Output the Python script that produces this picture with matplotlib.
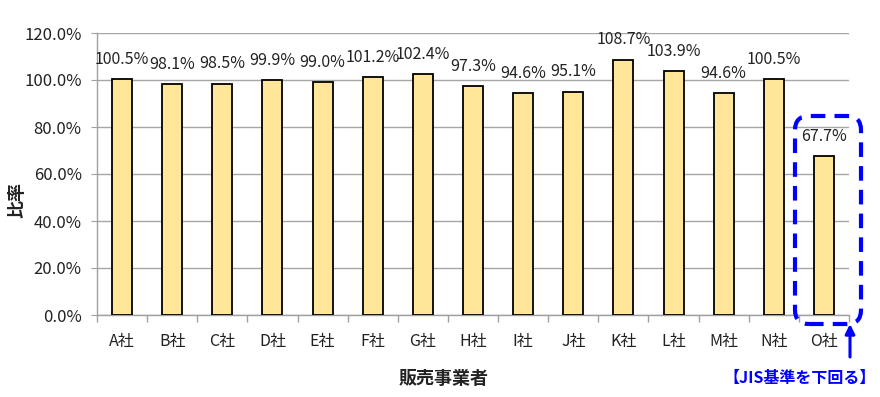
import matplotlib
matplotlib.use("Agg")
import matplotlib.pyplot as plt
from matplotlib.patches import FancyBboxPatch
from matplotlib.transforms import IdentityTransform
from matplotlib.ticker import FuncFormatter, MultipleLocator, FixedLocator

plt.rcParams['font.family'] = ['Noto Sans CJK JP', 'DejaVu Sans']

categories = ['A社', 'B社', 'C社', 'D社', 'E社', 'F社', 'G社', 'H社', 'I社', 'J社',
              'K社', 'L社', 'M社', 'N社', 'O社']
values = [100.5, 98.1, 98.5, 99.9, 99.0, 101.2, 102.4, 97.3, 94.6, 95.1,
          108.7, 103.9, 94.6, 100.5, 67.7]
value_labels = ['100.5%', '98.1%', '98.5%', '99.9%', '99.0%', '101.2%', '102.4%', '97.3%',
                '94.6%', '95.1%', '108.7%', '103.9%', '94.6%', '100.5%', '67.7%']

W, H = 880, 397
fig = plt.figure(figsize=(W / 100, H / 100), dpi=100)
ax = fig.add_axes([97 / W, 1 - 315 / H, (849 - 97) / W, (315 - 33) / H])

x = list(range(len(categories)))
ax.bar(x, values, width=0.4, color='#FFE699', edgecolor='black', linewidth=1.3, zorder=3)

for xi, v, lab in zip(x, values, value_labels):
    ax.annotate(lab, (xi, v), xytext=(0, 8), textcoords='offset points',
                ha='center', va='bottom', fontsize=11.5, color='#222222', zorder=4)

ax.set_xlim(-0.5, len(categories) - 0.5)
ax.set_ylim(0, 120)
ax.yaxis.set_major_locator(MultipleLocator(20))
ax.yaxis.set_major_formatter(FuncFormatter(lambda v, p: f'{v:.1f}%'))
ax.set_xticks(x)
ax.set_xticklabels(categories)
ax.xaxis.set_minor_locator(FixedLocator([i - 0.5 for i in range(len(categories) + 1)]))
ax.tick_params(axis='x', which='major', length=0, pad=13, labelsize=11.5, colors='#222222')
ax.tick_params(axis='x', which='minor', length=5, color='#A0A0A0', width=1)
ax.tick_params(axis='y', length=4, color='#A0A0A0', labelcolor='#222222', labelsize=12, pad=7)

ax.grid(axis='y', color='#A6A6A6', linewidth=1, zorder=0)
ax.set_axisbelow(True)
for s in ['top', 'right']:
    ax.spines[s].set_visible(False)
for s in ['left', 'bottom']:
    ax.spines[s].set_color('#A0A0A0')
    ax.spines[s].set_linewidth(1)

fig.text(17 / W, 1 - 200 / H, '比率', rotation=90, ha='center', va='center',
         fontsize=13, fontweight='bold', color='#222222')
fig.text(444 / W, 1 - 378 / H, '販売事業者', ha='center', va='center',
         fontsize=13, fontweight='bold', color='#222222')

# dashed rounded box (pixel coords, y flipped)
bx0, by0, bx1, by1 = 795, 116, 861, 324
box = FancyBboxPatch((bx0, H - by1), bx1 - bx0, by1 - by0,
                     boxstyle='round,pad=0,rounding_size=14',
                     transform=IdentityTransform(), fill=False,
                     edgecolor='#0000FF', linewidth=3, linestyle=(0, (3.5, 2.2)),
                     clip_on=False, zorder=6)
fig.add_artist(box)

ax.annotate('', xy=(850, H - 324), xytext=(850, H - 357),
            xycoords=IdentityTransform(), textcoords=IdentityTransform(),
            arrowprops=dict(arrowstyle='-|>', color='#0000FF', lw=2.2,
                            mutation_scale=14, shrinkA=0, shrinkB=0),
            annotation_clip=False)

fig.text(876 / W, 1 - 378 / H, '【JIS基準を下回る】', ha='right', va='center',
         fontsize=11.5, fontweight='bold', color='#0000FF')

fig.savefig('out.png', dpi=100)
